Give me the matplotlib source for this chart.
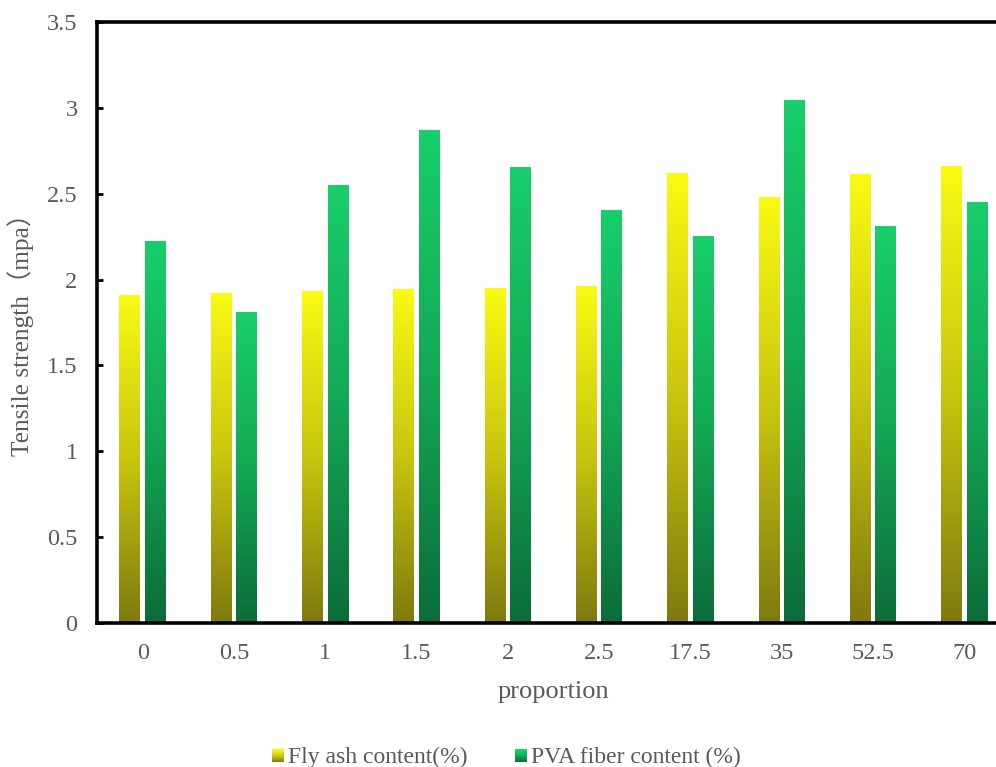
import numpy as np
import matplotlib
matplotlib.use('Agg')
import matplotlib.pyplot as plt
from matplotlib.colors import LinearSegmentedColormap
from matplotlib.patches import Rectangle
from matplotlib.legend_handler import HandlerBase

# data
categories = ['0', '0.5', '1', '1.5', '2', '2.5', '17.5', '35', '52.5', '70']
fly_ash = [1.91, 1.92, 1.93, 1.94, 1.95, 1.96, 2.62, 2.48, 2.61, 2.66]
pva_fiber = [2.22, 1.81, 2.55, 2.87, 2.65, 2.40, 2.25, 3.04, 2.31, 2.45]
series_names = ['Fly ash content(%)', 'PVA fiber content (%)']

# colour gradients (bottom -> top)
yellow_cmap = LinearSegmentedColormap.from_list('yel', ['#7F7A0E', '#C8C50F', '#FAFA12'])
green_cmap = LinearSegmentedColormap.from_list('grn', ['#0C6C39', '#13A855', '#18CF6A'])

plt.rcParams['font.family'] = ['Liberation Serif', 'Noto Sans CJK SC']
grey = '#595959'

fig = plt.figure(figsize=(9.96, 7.67), dpi=100)
ax = fig.add_axes([0.0974, 0.1877, 0.9167, 0.7836])

x = np.arange(len(categories))
width = 0.23
offset = 0.14
grad = np.linspace(0, 1, 256).reshape(-1, 1)

def gradient_bars(xpos, vals, cmap):
    bars = ax.bar(xpos, vals, width, color='none', edgecolor='none')
    for b in bars:
        x0 = b.get_x()
        ax.imshow(grad, extent=[x0, x0 + b.get_width(), 0, b.get_height()],
                  origin='lower', cmap=cmap, aspect='auto', zorder=2)
    return bars

gradient_bars(x - offset, fly_ash, yellow_cmap)
gradient_bars(x + offset, pva_fiber, green_cmap)

ax.set_xlim(-0.5, len(categories) - 0.5)
ax.set_ylim(0, 3.5)
ax.set_yticks(np.arange(0, 3.51, 0.5))
ax.set_yticklabels(['0', '0.5', '1', '1.5', '2', '2.5', '3', '3.5'])
ax.set_xticks(x)
ax.set_xticklabels(categories)

for s in ['left', 'bottom', 'top']:
    ax.spines[s].set_linewidth(2.6)
    ax.spines[s].set_color('black')
ax.spines['right'].set_visible(False)

ax.tick_params(axis='y', direction='in', length=4, width=2, pad=14,
               labelsize=17.5, labelcolor=grey, color='black')
ax.tick_params(axis='x', length=0, pad=14.5, labelsize=17.5, labelcolor=grey)

ax.set_xlabel('proportion', fontsize=19, color=grey, labelpad=12)
ax.set_ylabel('Tensile strength（mpa）', fontsize=18.3, color=grey)
ax.yaxis.set_label_coords(-0.069, 0.49)


class GradientHandler(HandlerBase):
    def __init__(self, cmap):
        super().__init__()
        self.cmap = cmap

    def create_artists(self, legend, orig_handle, xdescent, ydescent,
                       width, height, fontsize, trans):
        n = 12
        size = 9
        artists = []
        x0 = -xdescent + width - size
        y0 = -ydescent + (height - size) / 2 - 1
        for i in range(n):
            r = Rectangle((x0, y0 + size * i / n), size, size / n + 0.2,
                          facecolor=self.cmap((i + 0.5) / n), edgecolor='none',
                          transform=trans)
            artists.append(r)
        return artists


h1 = Rectangle((0, 0), 1, 1)
h2 = Rectangle((0, 0), 1, 1)
leg = fig.legend([h1, h2], series_names, loc='center', bbox_to_anchor=(0.508, 0.013),
                 ncol=2, frameon=False, fontsize=17.0, handlelength=0.55,
                 handletextpad=0.15, columnspacing=2.0,
                 handler_map={h1: GradientHandler(yellow_cmap), h2: GradientHandler(green_cmap)})
for t in leg.get_texts():
    t.set_color(grey)

fig.savefig('out.png', dpi=100)
